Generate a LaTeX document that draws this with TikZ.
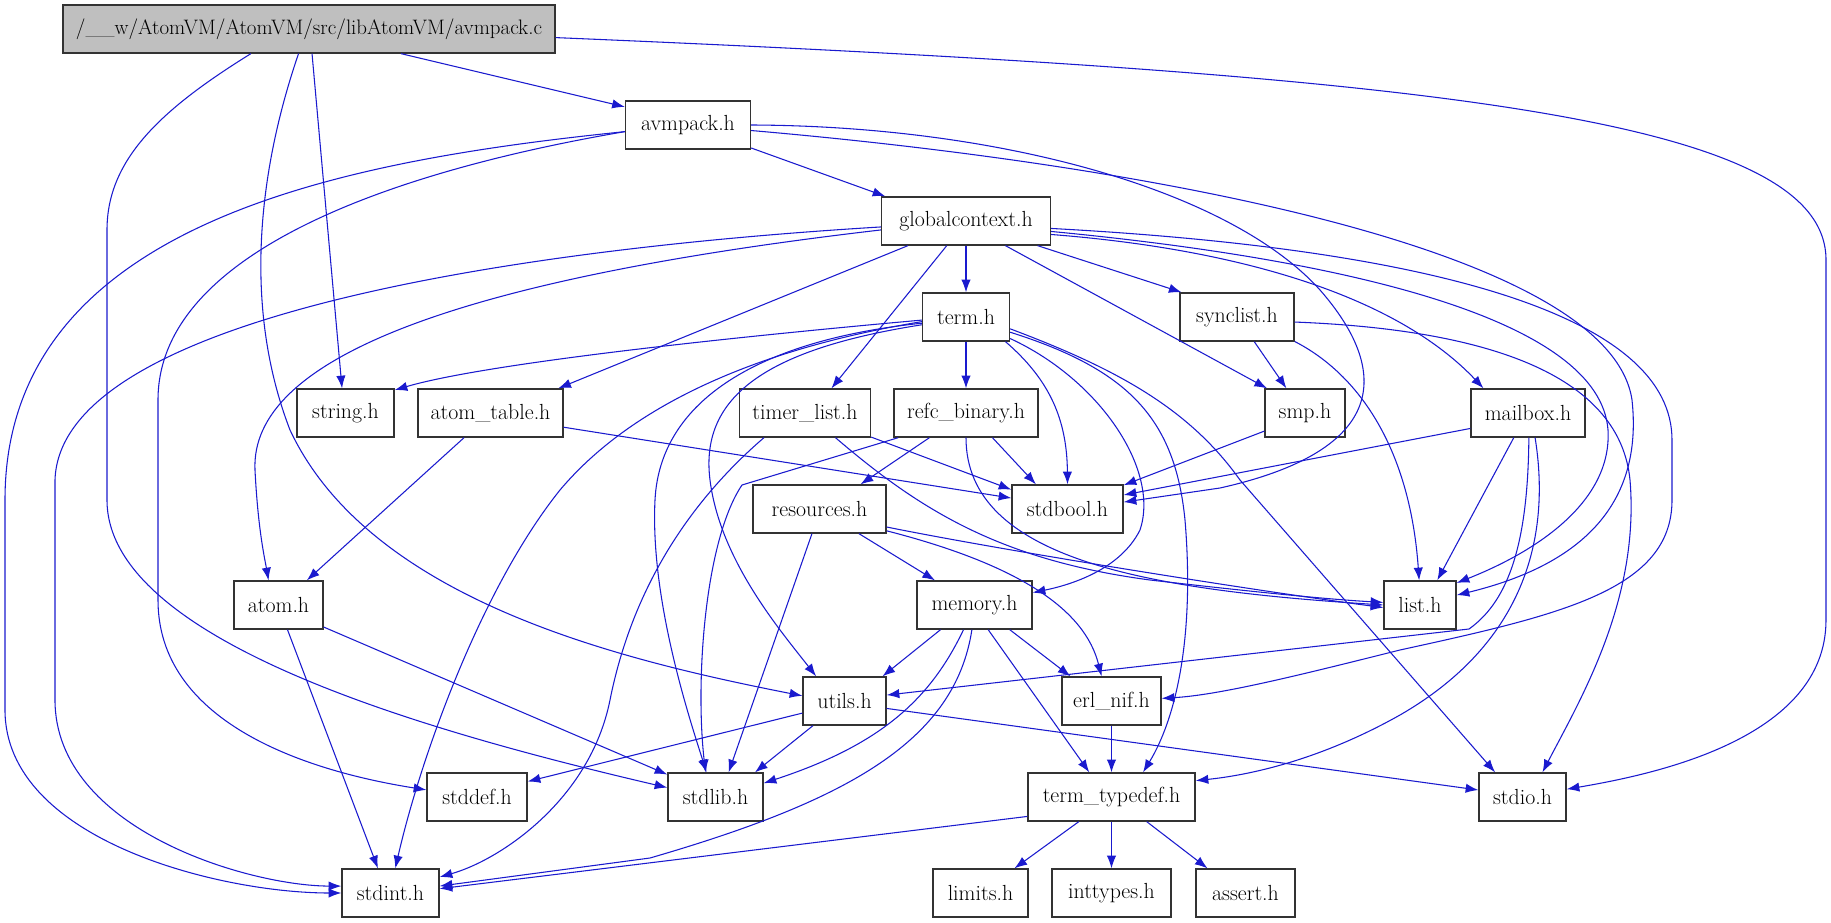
\documentclass[tikz,border=0pt]{standalone}
\usetikzlibrary{arrows.meta}
\definecolor{edgeblue}{RGB}{26,26,206}
\begin{document}
\begin{tikzpicture}[x=0.75pt, y=-0.75pt, >={Latex[length=9.5pt,width=7pt]},
  every node/.style={font=\fontsize{16.4}{19}\selectfont},
  hfile/.style={draw=black!80, line width=1pt, minimum height=36pt, inner sep=1pt},
  dep/.style={->, draw=edgeblue, line width=0.8pt}]
\useasboundingbox (0,0) rectangle (1831,923);
\node[hfile, fill=black!25, minimum width=369pt, font=\fontsize{15.7}{19}\selectfont] (avmc) at (309,29) {/\_\_w/AtomVM/AtomVM/src/libAtomVM/avmpack.c};
\node[hfile, minimum width=93.75pt] (avmh) at (688,125) {avmpack.h};
\node[hfile, minimum width=126.75pt] (gctx) at (966,221) {globalcontext.h};
\node[hfile, minimum width=65.25pt] (term) at (966,317) {term.h};
\node[hfile, minimum width=85.5pt] (synclist) at (1237,317) {synclist.h};
\node[hfile, minimum width=72.75pt] (stringh) at (345.5,413) {string.h};
\node[hfile, minimum width=108.75pt] (atomtable) at (490.5,413) {atom\_table.h};
\node[hfile, minimum width=98.25pt] (timerlist) at (805,413) {timer\_list.h};
\node[hfile, minimum width=108pt] (refcbinary) at (966,413) {refc\_binary.h};
\node[hfile, minimum width=60pt] (smp) at (1305,413) {smp.h};
\node[hfile, minimum width=85.5pt] (mailbox) at (1528,413) {mailbox.h};
\node[hfile, minimum width=99.75pt] (resources) at (819.5,509) {resources.h};
\node[hfile, minimum width=83.25pt] (stdbool) at (1067.5,509) {stdbool.h};
\node[hfile, minimum width=54pt] (list) at (1420,605) {list.h};
\node[hfile, minimum width=66.75pt] (atom) at (278.5,605) {atom.h};
\node[hfile, minimum width=86.25pt] (memory) at (974.5,605) {memory.h};
\node[hfile, minimum width=62.25pt] (utils) at (844.5,701) {utils.h};
\node[hfile, minimum width=74.25pt] (erlnif) at (1111.5,701) {erl\_nif.h};
\node[hfile, minimum width=75pt] (stddef) at (477,797) {stddef.h};
\node[hfile, minimum width=71.25pt] (stdlib) at (715.5,797) {stdlib.h};
\node[hfile, minimum width=125.25pt] (termtypedef) at (1111.5,797) {term\_typedef.h};
\node[hfile, minimum width=65.25pt] (stdio) at (1522.5,797) {stdio.h};
\node[hfile, minimum width=72.75pt] (stdint) at (390.5,893) {stdint.h};
\node[hfile, minimum width=71.25pt] (limits) at (980.5,893) {limits.h};
\node[hfile, minimum width=89.25pt] (inttypes) at (1111.5,893) {inttypes.h};
\node[hfile, minimum width=74.25pt] (assert) at (1245.5,893) {assert.h};
\draw[dep] (avmc.-15) -- (avmh.164);
\draw[dep] (avmc.-2) .. controls (1450,75) and (1826,120) .. (1826,260) -- (1826,620) .. controls (1826,740) and (1650,775) .. (stdio.10);
\draw[dep] (avmc.-83) -- (stringh.98);
\draw[dep] (avmc.247) .. controls (262,160) and (240,300) .. (290,430) .. controls (370,600) and (620,660) .. (utils.173);
\draw[dep] (avmc.203) .. controls (160,110) and (107,160) .. (107,230) -- (107,500) .. controls (107,640) and (420,730) .. (stdlib.169);
\draw[dep] (avmh.-20) -- (gctx.163);
\draw[dep] (avmh.186) .. controls (350,160) and (5,220) .. (5,500) -- (5,710) .. controls (5,840) and (220,893) .. (stdint.180);
\draw[dep] (avmh.186) .. controls (400,170) and (158,250) .. (158,400) -- (158,600) .. controls (158,720) and (300,770) .. (stddef.172);
\draw[dep] (avmh.0) .. controls (1000,126) and (1230,190) .. (1320,290) .. controls (1390,370) and (1390,450) .. (1220,488) -- (stdbool.7);
\draw[dep] (avmh.-5) .. controls (1150,165) and (1610,250) .. (1632,400) .. controls (1645,520) and (1560,570) .. (list.15);
\draw[dep] (gctx.south) -- (term.north);
\draw[dep] (gctx.-128) -- (timerlist.43);
\draw[dep] (gctx.-157) -- (atomtable.20);
\draw[dep] (gctx.-32) -- (smp.147);
\draw[dep] (gctx.-19) -- (synclist.156);
\draw[dep] (gctx.-9) .. controls (1250,250) and (1400,300) .. (mailbox.151);
\draw[dep] (gctx.-7) .. controls (1350,260) and (1600,320) .. (1608,430) .. controls (1612,500) and (1540,550) .. (list.31);
\draw[dep] (gctx.-5) .. controls (1450,250) and (1672,320) .. (1672,440) -- (1672,500) .. controls (1672,590) and (1560,615) .. (1400,650) .. controls (1300,675) and (1220,695) .. (erlnif.3);
\draw[dep] (gctx.184) .. controls (500,250) and (60,320) .. (55,480) -- (55,700) .. controls (55,830) and (250,886) .. (stdint.172);
\draw[dep] (gctx.186) .. controls (450,280) and (250,360) .. (255,470) .. controls (258,530) and (265,560) .. (atom.112);
\draw[dep] (term.184) .. controls (700,340) and (480,365) .. (stringh.25);
\draw[dep] (term.186) .. controls (780,345) and (640,395) .. (560,490) .. controls (480,590) and (420,760) .. (stdint.79);
\draw[dep] (term.188) .. controls (760,340) and (660,400) .. (655,500) .. controls (650,600) and (690,720) .. (stdlib.110);
\draw[dep] (term.190) .. controls (760,350) and (700,400) .. (710,480) .. controls (720,560) and (780,630) .. (utils.139);
\draw[dep] (term.south) -- (refcbinary.north);
\draw[dep] (term.-32) .. controls (1050,380) and (1067,420) .. (stdbool.north);
\draw[dep] (term.-26) .. controls (1100,380) and (1160,470) .. (1140,530) .. controls (1120,570) and (1070,585) .. (memory.12);
\draw[dep] (term.-19) .. controls (1130,370) and (1175,420) .. (1185,520) .. controls (1195,640) and (1175,720) .. (termtypedef.38);
\draw[dep] (term.-15) .. controls (1120,370) and (1190,410) .. (1240,480) -- (stdio.138);
\draw[dep] (synclist.-55) -- (smp.127);
\draw[dep] (synclist.-23) .. controls (1360,375) and (1410,450) .. (list.92);
\draw[dep] (synclist.-5) .. controls (1500,330) and (1620,380) .. (1630,480) .. controls (1640,600) and (1580,700) .. (stdio.51);
\draw[dep] (smp.204) -- (stdbool.23);
\draw[dep] (mailbox.-120) -- (list.55);
\draw[dep] (mailbox.195) -- (stdbool.14);
\draw[dep] (mailbox.-88) .. controls (1528,540) and (1510,600) .. (1469,629) -- (utils.8);
\draw[dep] (mailbox.-74) .. controls (1550,530) and (1530,640) .. (1400,715) .. controls (1320,760) and (1250,775) .. (termtypedef.11);
\draw[dep] (atomtable.223) -- (atom.41);
\draw[dep] (atomtable.-11) -- (stdbool.169);
\draw[dep] (timerlist.-39) .. controls (920,510) and (1000,560) .. (1150,580) .. controls (1280,595) and (1340,600) .. (list.176);
\draw[dep] (timerlist.-20) -- (stdbool.161);
\draw[dep] (timerlist.211) .. controls (680,510) and (630,600) .. (610,700) .. controls (590,800) and (500,860) .. (stdint.18);
\draw[dep] (refcbinary.-146) -- (resources.31);
\draw[dep] (refcbinary.-43) -- (stdbool.142);
\draw[dep] (refcbinary.200) -- (742,485) .. controls (705,540) and (695,680) .. (stdlib.112);
\draw[dep] (refcbinary.south) .. controls (966,560) and (1150,590) .. (list.180);
\draw[dep] (resources.-107) -- (stdlib.62);
\draw[dep] (resources.-32) -- (memory.148);
\draw[dep] (resources.-18) .. controls (1020,565) and (1085,610) .. (erlnif.112);
\draw[dep] (resources.-15) .. controls (1000,550) and (1250,590) .. (list.184);
\draw[dep] (atom.-70) -- (stdint.117);
\draw[dep] (atom.-26) -- (stdlib.155);
\draw[dep] (memory.-144) -- (utils.33);
\draw[dep] (memory.-114) .. controls (930,700) and (880,745) .. (stdlib.16);
\draw[dep] (memory.-96) .. controls (955,740) and (850,800) .. (650,858) -- (stdint.8);
\draw[dep] (memory.-61) -- (termtypedef.132);
\draw[dep] (memory.-35) -- (erlnif.149);
\draw[dep] (utils.196) -- (stddef.17);
\draw[dep] (utils.-142) -- (stdlib.32);
\draw[dep] (utils.-10) -- (stdio.171);
\draw[dep] (erlnif.south) -- (termtypedef.north);
\draw[dep] (termtypedef.193) -- (stdint.5);
\draw[dep] (termtypedef.-143) -- (limits.36);
\draw[dep] (termtypedef.south) -- (inttypes.north);
\draw[dep] (termtypedef.-35) -- (assert.147);
\end{tikzpicture}
\end{document}
